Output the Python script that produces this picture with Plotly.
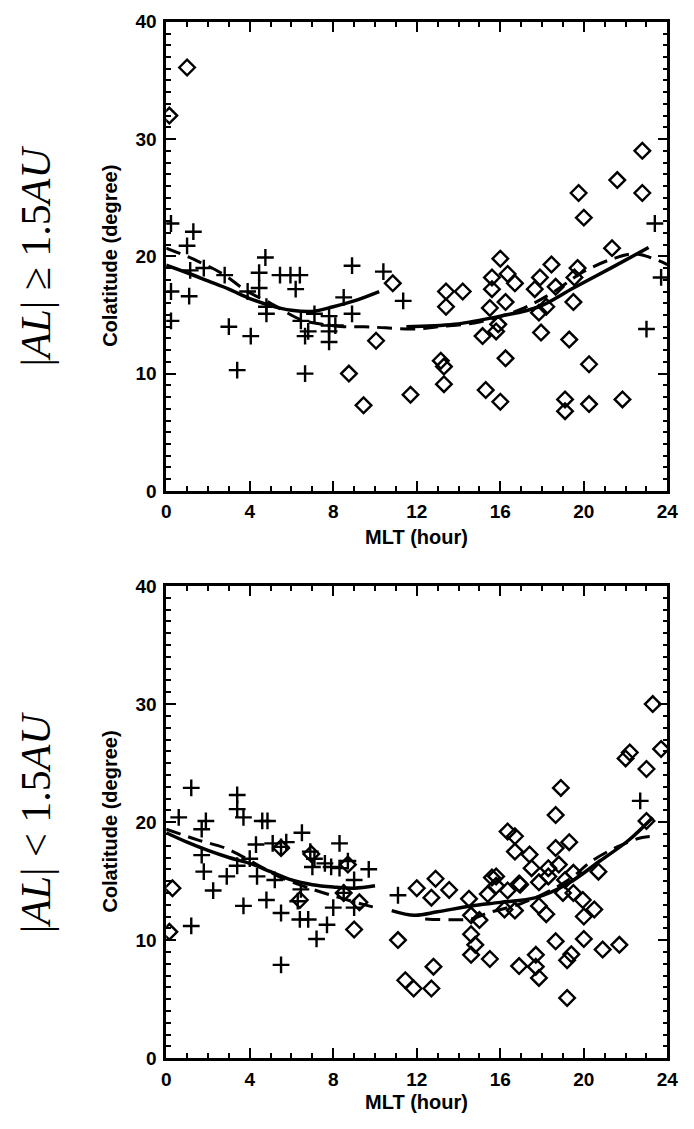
import plotly.graph_objects as go

# ---------------- data ----------------
# Top panel: |AL| >= 1.5 AU
top_plus_x = [0.23, 1.3, 1.0, 4.75, 1.15, 1.8, 2.8, 4.45, 4.45, 5.45, 5.95, 6.4, 6.2, 0.23, 1.1,
              8.9, 10.4, 11.35, 3.9, 4.8, 4.8, 3.0, 4.05, 3.4, 6.65, 0.23, 6.45, 6.8, 6.65, 7.1,
              7.8, 7.8, 7.8, 7.8, 8.1, 8.5, 8.9, 23.0, 23.7, 23.4]
top_plus_y = [22.8, 22.1, 20.9, 19.9, 18.8, 19.0, 18.4, 18.6, 17.3, 18.4, 18.4, 18.4, 17.2, 17.0, 16.6,
              19.2, 18.7, 16.2, 17.0, 15.7, 15.1, 14.0, 13.2, 10.3, 10.0, 14.5, 14.5, 13.6, 13.2, 15.1,
              14.9, 14.1, 13.6, 12.7, 14.1, 16.5, 15.1, 13.8, 18.2, 22.8]
top_diam_x = [1.0, 0.15, 10.85, 10.05, 8.75, 9.45, 11.7, 16.0, 15.6, 16.35, 16.7, 15.6, 16.25, 15.5,
              15.8, 15.15, 15.9, 13.4, 13.4, 14.2, 13.15, 13.3, 13.3, 15.3, 16.0, 16.25, 18.45, 17.9,
              17.65, 18.65, 18.2, 17.85, 17.95, 19.7, 19.55, 19.5, 19.3, 20.25, 19.1, 19.1, 20.25,
              21.85, 21.35, 22.8, 21.6, 19.75, 22.8, 20.0]
top_diam_y = [36.1, 32.0, 17.7, 12.8, 10.0, 7.3, 8.2, 19.8, 18.2, 18.5, 17.7, 17.2, 16.1, 15.6,
              13.6, 13.2, 14.2, 17.0, 15.7, 17.0, 11.1, 10.6, 9.1, 8.6, 7.6, 11.3, 19.3, 18.2,
              17.2, 17.4, 15.7, 15.2, 13.5, 19.0, 18.2, 16.1, 12.9, 10.8, 7.8, 6.8, 7.4,
              7.8, 20.7, 29.0, 26.5, 25.4, 25.4, 23.3]
top_fit_dawn_x = [0, 1, 2, 3, 4, 5, 6, 7, 8, 9, 10.2]
top_fit_dawn_y = [19.25, 18.6, 17.9, 17.2, 16.4, 15.8, 15.4, 15.3, 15.7, 16.2, 17.0]
top_fit_dusk_x = [11.5, 13.8, 16.0, 17.85, 19.5, 21.4, 23.1]
top_fit_dusk_y = [14.0, 14.2, 14.9, 15.7, 17.3, 19.1, 20.75]
top_model_x = [0, 1.5, 2.8, 3.8, 5.0, 6.45, 7.5, 8.5, 9.5, 10.5, 11.9, 13.0, 15.0, 17.0, 18.5,
               19.9, 21.4, 22.5, 24.0]
top_model_y = [20.7, 19.6, 18.4, 17.1, 16.0, 14.6, 14.2, 14.0, 14.0, 13.9, 13.8, 14.0, 14.4, 15.5,
               16.9, 18.6, 19.8, 20.2, 19.3]

# Bottom panel: |AL| < 1.5 AU
bot_plus_x = [1.2, 3.4, 3.4, 3.7, 0.6, 1.9, 1.7, 4.6, 4.85, 6.5, 8.3, 4.3, 5.1, 5.5, 5.75, 6.9,
              7.1, 7.0, 7.6, 7.9, 8.3, 8.7, 9.7, 9.0, 1.7, 1.8, 2.9, 3.4, 4.0, 4.35, 5.2, 2.25,
              3.7, 4.8, 5.5, 6.45, 6.3, 6.4, 6.8, 7.2, 7.7, 8.0, 8.5, 9.0, 5.5, 1.2, 11.1, 22.7]
bot_plus_y = [22.9, 22.3, 21.1, 20.4, 20.4, 20.1, 19.4, 20.1, 20.1, 19.1, 18.2, 18.1, 18.2, 17.9, 18.3, 17.5,
              16.9, 16.2, 16.5, 16.2, 16.1, 16.7, 16.0, 15.1, 17.2, 15.8, 15.4, 16.3, 16.9, 15.4, 15.1, 14.2,
              12.9, 13.4, 12.3, 14.3, 13.3, 11.75, 11.75, 10.1, 11.3, 12.75, 14.0, 12.75, 7.9, 11.2, 13.8, 21.8]
bot_diam_x = [0.3, 0.15, 9.0, 9.25, 11.1, 11.45, 11.85, 12.0, 5.5, 8.7, 8.5, 6.4, 6.95,
              23.0, 18.65, 16.35, 16.7, 19.3, 18.65, 16.7, 17.4, 18.8, 17.5, 18.3, 19.5, 20.7,
              15.8, 15.6, 12.9, 12.7, 13.55, 14.5, 15.4, 15.8, 16.35, 16.95, 17.85, 18.3, 19.1, 19.0,
              19.5, 19.95, 16.2, 16.7, 17.85, 18.2, 20.0, 20.5, 14.6, 15.0, 14.6, 14.8, 14.6, 15.5,
              18.65, 20.0, 20.9, 21.7, 19.4, 19.2, 17.7, 17.7, 17.85, 16.9, 19.2, 12.8, 12.7,
              23.3, 23.7, 22.2, 22.0, 23.0, 18.9, 16.9]
bot_diam_y = [14.4, 10.7, 10.9, 13.2, 10.0, 6.6, 5.9, 14.4, 17.8, 16.4, 14.0, 13.4, 17.3,
              20.1, 20.6, 19.2, 18.8, 18.3, 17.8, 17.5, 17.25, 16.4, 16.1, 16.1, 15.7, 15.8,
              15.4, 15.3, 15.2, 13.6, 14.25, 13.5, 13.9, 14.6, 14.2, 14.7, 14.9, 15.4, 15.1, 14.0,
              14.0, 13.4, 12.6, 12.5, 12.9, 12.2, 12.0, 12.6, 12.1, 11.7, 10.5, 9.6, 8.75, 8.4,
              9.9, 10.1, 9.2, 9.6, 8.8, 8.3, 8.75, 7.75, 6.8, 7.8, 5.1, 7.75, 5.9,
              30.0, 26.2, 25.9, 25.4, 24.5, 22.9, 14.8]
bot_fit_dawn_x = [0, 1, 2, 3, 4, 5, 6, 7, 8, 9, 10]
bot_fit_dawn_y = [19.1, 18.3, 17.6, 17.0, 16.5, 15.8, 15.1, 14.7, 14.5, 14.4, 14.6]
bot_fit_dusk_x = [10.8, 11.9, 13.0, 14.6, 16.0, 17.7, 19.25, 20.8, 22.1, 23.3]
bot_fit_dusk_y = [12.5, 12.1, 12.4, 12.9, 13.2, 13.6, 14.8, 16.75, 18.4, 20.4]
bot_model_x = [0, 1.5, 2.9, 4.45, 5.5, 7.1, 8.3, 9.7, 10.2, None,
               12.4, 14.6, 15.4, 17.0, 18.5, 19.5, 20.3, 21.6, 22.8, 23.5]
bot_model_y = [19.4, 18.5, 17.75, 16.3, 15.3, 14.25, 13.6, 12.9, 12.7, None,
               11.8, 11.8, 12.3, 13.1, 14.3, 15.4, 16.6, 17.9, 18.7, 18.8]

x_ticks = [0, 4, 8, 12, 16, 20, 24]
y_ticks = [0, 10, 20, 30, 40]
x_title = "MLT (hour)"
y_title = "Colatitude (degree)"
panel_labels = ["|<i>AL</i>| ≥ 1.5<i>AU</i>", "|<i>AL</i>| &lt; 1.5<i>AU</i>"]

# ---------------- figure ----------------
W, H = 694, 1129
fig = go.Figure()

plus_marker = dict(symbol="cross-thin", size=12, color="black", line=dict(width=2.4, color="black"))
diam_marker = dict(symbol="diamond-open", size=12, color="black", line=dict(width=2.4, color="black"))
solid_line = dict(color="black", width=3.5)
dash_line = dict(color="black", width=3, dash="15px,8px")

panels = [
    ("x", "y", top_plus_x, top_plus_y, top_diam_x, top_diam_y,
     [(top_fit_dawn_x, top_fit_dawn_y), (top_fit_dusk_x, top_fit_dusk_y)], (top_model_x, top_model_y)),
    ("x2", "y2", bot_plus_x, bot_plus_y, bot_diam_x, bot_diam_y,
     [(bot_fit_dawn_x, bot_fit_dawn_y), (bot_fit_dusk_x, bot_fit_dusk_y)], (bot_model_x, bot_model_y)),
]
for xa, ya, px, py, dx, dy, fits, model in panels:
    fig.add_trace(go.Scatter(x=px, y=py, mode="markers", marker=plus_marker, xaxis=xa, yaxis=ya,
                             showlegend=False, cliponaxis=True))
    fig.add_trace(go.Scatter(x=dx, y=dy, mode="markers", marker=diam_marker, xaxis=xa, yaxis=ya,
                             showlegend=False, cliponaxis=True))
    fig.add_trace(go.Scatter(x=model[0], y=model[1], mode="lines", line=dash_line, xaxis=xa, yaxis=ya,
                             showlegend=False, connectgaps=False, line_shape="spline"))
    for fx, fy in fits:
        fig.add_trace(go.Scatter(x=fx, y=fy, mode="lines", line=solid_line, xaxis=xa, yaxis=ya,
                                 showlegend=False, line_shape="spline"))

tick_font = dict(family="Liberation Sans, Arial, sans-serif", size=19, color="black", weight="bold")

def xaxis_cfg(domain, anchor):
    return dict(domain=domain, anchor=anchor, range=[0, 24], tickmode="array", tickvals=x_ticks,
                ticks="inside", ticklen=10, tickwidth=2, tickcolor="black",
                minor=dict(dtick=1, ticks="inside", ticklen=5, tickwidth=2, tickcolor="black"),
                showline=True, linewidth=2.5, linecolor="black", mirror="allticks",
                showgrid=False, zeroline=False, tickfont=tick_font, ticklabelstandoff=2)

def yaxis_cfg(domain, anchor):
    return dict(domain=domain, anchor=anchor, range=[0, 40], tickmode="array", tickvals=y_ticks,
                ticks="inside", ticklen=10, tickwidth=2, tickcolor="black",
                minor=dict(dtick=1, ticks="inside", ticklen=5, tickwidth=2, tickcolor="black"),
                showline=True, linewidth=2.5, linecolor="black", mirror="allticks",
                showgrid=False, zeroline=False, tickfont=tick_font, ticklabelstandoff=3)

xd = [165 / W, 678 / W]
top_dom = [1 - 490 / H, 1 - 12 / H]
bot_dom = [1 - 1068 / H, 1 - 587 / H]

fig.update_layout(
    width=W, height=H, margin=dict(l=0, r=0, t=0, b=0),
    paper_bgcolor="white", plot_bgcolor="white", showlegend=False,
    xaxis=xaxis_cfg(xd, "y"), yaxis=yaxis_cfg(top_dom, "x"),
    xaxis2=xaxis_cfg(xd, "y2"), yaxis2=yaxis_cfg(bot_dom, "x2"),
)

title_font = dict(family="Liberation Sans, Arial, sans-serif", size=20, color="black", weight="bold")
label_font = dict(family="Liberation Serif, DejaVu Serif, serif", size=42, color="black")
anns = []
for dom, lab, xt_y in [(top_dom, panel_labels[0], 537), (bot_dom, panel_labels[1], 1113)]:
    mid = (dom[0] + dom[1]) / 2
    anns.append(dict(text=y_title, x=108 / W, y=mid, xref="paper", yref="paper", textangle=-90,
                     showarrow=False, font=title_font, xanchor="center", yanchor="middle"))
    anns.append(dict(text=lab, x=32 / W, y=mid, xref="paper", yref="paper", textangle=-90,
                     showarrow=False, font=label_font, xanchor="center", yanchor="middle"))
    anns.append(dict(text=x_title, x=(xd[0] + xd[1]) / 2, y=1 - xt_y / H, xref="paper", yref="paper",
                     showarrow=False, font=title_font, xanchor="center", yanchor="middle"))
fig.update_layout(annotations=anns)

fig.write_html("out.html")
